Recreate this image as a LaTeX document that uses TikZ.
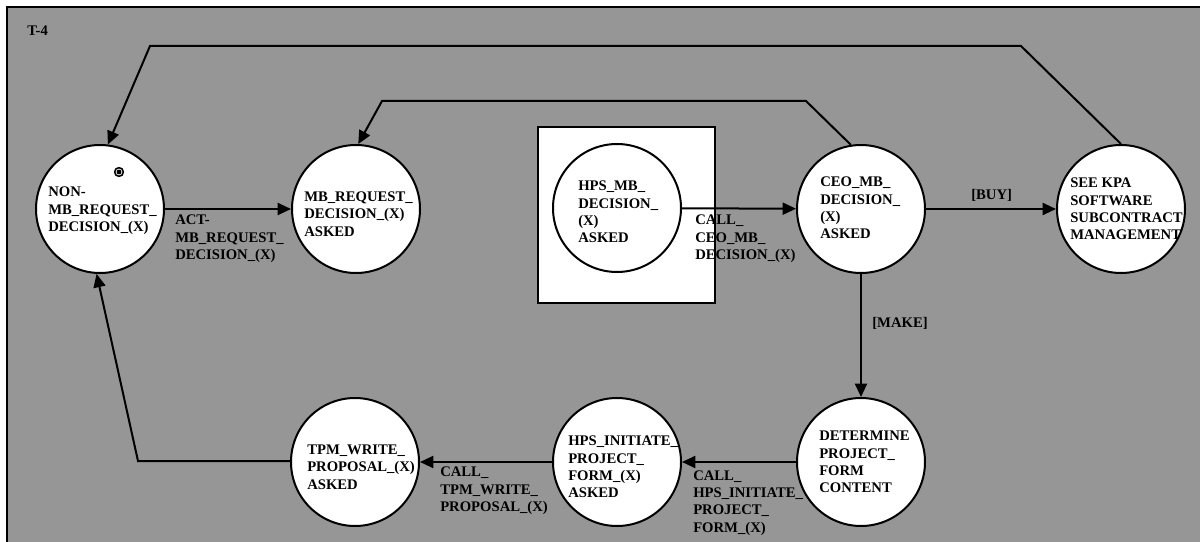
\documentclass[tikz,border=0pt]{standalone}
\usepackage{fontspec}
\setmainfont{Liberation Serif}
\usetikzlibrary{arrows.meta}
\definecolor{bggray}{RGB}{150,150,150}
\tikzset{
  state/.style={circle, draw, fill=white, line width=1.5pt, minimum size=96pt, inner sep=0pt},
  txt/.style={anchor=west, align=left, inner sep=0pt, font=\fontsize{11}{13}\selectfont\bfseries},
  conn/.style={line width=1.5pt, -{Triangle[length=10pt,width=9pt]}},
  plainline/.style={line width=1.5pt}
}
\begin{document}
\begin{tikzpicture}[x=0.75pt,y=-0.75pt]
\useasboundingbox (0,0) rectangle (1200,542);
\clip (0,0) rectangle (1200,542);
\fill[white] (0,0) rectangle (1200,542);
\fill[bggray] (7,7) rectangle (1215,560);
\draw[plainline] (7,560) -- (7,7) -- (1215,7);

\node[txt] (title) at (27,31) {T-4};

% box around HPS_MB
\node[draw, fill=white, line width=1.5pt, minimum width=132.75pt, minimum height=132pt, inner sep=0pt] (box) at (626.5,215) {};

% states
\node[state] (non) at (100,209) {};
\node[state] (mbreq) at (356,209) {};
\node[state] (hpsmb) at (617,208) {};
\node[state] (ceo) at (861,209) {};
\node[state] (see) at (1121,209) {};
\node[state] (tpm) at (355,462) {};
\node[state] (hpsinit) at (617,462) {};
\node[state] (det) at (861,462) {};

% start marker
\node[circle, draw, line width=1.2pt, fill=white, inner sep=0pt, minimum size=6.5pt] (start) at (119,172) {};
\node[circle, fill=black, inner sep=0pt, minimum size=3.6pt] (startdot) at (start) {};

% state texts
\node[txt] (nonT) at (48,211) {NON-\\MB\_REQUEST\_\\DECISION\_(X)};
\node[txt] (mbreqT) at (304,214) {MB\_REQUEST\_\\DECISION\_(X)\\ASKED};
\node[txt] (hpsmbT) at (578,212) {HPS\_MB\_\\DECISION\_\\(X)\\ASKED};
\node[txt] (ceoT) at (820,208) {CEO\_MB\_\\DECISION\_\\(X)\\ASKED};
\node[txt] (seeT) at (1070,209) {SEE KPA\\SOFTWARE\\SUBCONTRACT\\MANAGEMENT};
\node[txt] (tpmT) at (307,467) {TPM\_WRITE\_\\PROPOSAL\_(X)\\ASKED};
\node[txt] (hpsinitT) at (568,467) {HPS\_INITIATE\_\\PROJECT\_\\FORM\_(X)\\ASKED};
\node[txt] (detT) at (819,462) {DETERMINE\\PROJECT\_\\FORM\\CONTENT};

% bend points
\coordinate (t1) at (1021,46);
\coordinate (t2) at (150,46);
\coordinate (u1) at (806,101);
\coordinate (u2) at (382,101);
\coordinate (l1) at (138,461);

% connectors
\draw[conn] (see.north) -- (t1) -- (t2) -- (non.83);
\draw[conn] (ceo.99) -- (u1) -- (u2) -- (mbreq.88);
\draw[conn] (non) -- (mbreq);
\draw[conn] (hpsmb) -- (ceo);
\draw[conn] (ceo) -- (see);
\draw[conn] (ceo) -- (det);
\draw[conn] (det) -- (hpsinit);
\draw[conn] (hpsinit) -- (tpm);
\draw[conn] (tpm.west |- l1) -- (l1) -- (non.267);

% edge labels
\node[txt] (lact) at (175,239) {ACT-\\MB\_REQUEST\_\\DECISION\_(X)};
\node[txt] (lceo) at (695,239) {CALL\_\\CEO\_MB\_\\DECISION\_(X)};
\node[txt] (lbuy) at (971,195) {[BUY]};
\node[txt] (lmake) at (872,323) {[MAKE]};
\node[txt] (ltpm) at (440,491) {CALL\_\\TPM\_WRITE\_\\PROPOSAL\_(X)};
\node[txt] (lhps) at (693,503) {CALL\_\\HPS\_INITIATE\_\\PROJECT\_\\FORM\_(X)};
\end{tikzpicture}
\end{document}
